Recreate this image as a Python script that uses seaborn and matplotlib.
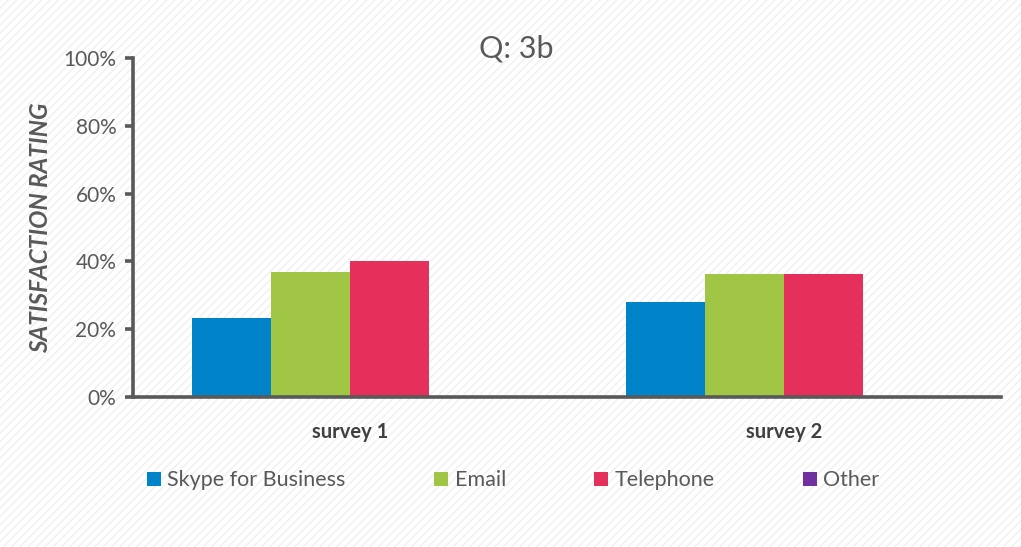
import matplotlib
matplotlib.use("Agg")
import matplotlib.pyplot as plt
import matplotlib.patches as mpatches
from matplotlib.ticker import PercentFormatter, MultipleLocator
import seaborn as sns
import pandas as pd

# Survey results (share of respondents satisfied, %)
surveys = ["survey 1", "survey 2"]
channels = ["Skype for Business", "Email", "Telephone", "Other"]
skype = [23.3, 27.9]
email = [36.8, 36.2]
telephone = [40.1, 36.2]
other = [0.0, 0.0]

palette = ["#0083C8", "#A1C646", "#E5305B", "#7030A0"]
text_grey = "#595959"

rows = []
for ch, vals in zip(channels, [skype, email, telephone, other]):
    for s, v in zip(surveys, vals):
        rows.append({"survey": s, "channel": ch, "rating": v})
df = pd.DataFrame(rows)

sns.set_theme(style="white")
plt.rcParams["font.family"] = ["Lato", "DejaVu Sans"]
plt.rcParams["hatch.color"] = "#f0f0f0"
plt.rcParams["hatch.linewidth"] = 1.0

fig = plt.figure(figsize=(10.21, 5.47), dpi=100)
fig.patch.set_facecolor("white")
# subtle diagonal texture behind the chart
bg = mpatches.Rectangle((0, 0), 1, 1, transform=fig.transFigure,
                        facecolor="white", edgecolor="#f0f0f0",
                        hatch="////", linewidth=0, zorder=-10)
fig.patches.append(bg)

ax = fig.add_axes([0.1303, 0.2742, 0.8497, 0.6198])
ax.patch.set_alpha(0)

sns.barplot(data=df, x="survey", y="rating", hue="channel",
            hue_order=channels, palette=palette, width=0.728,
            saturation=1, linewidth=0, ax=ax, legend=True)

ax.set_xlim(-0.5, 1.5)
ax.set_ylim(0, 100)
ax.yaxis.set_major_locator(MultipleLocator(20))
ax.yaxis.set_major_formatter(PercentFormatter(decimals=0))

for side in ["top", "right"]:
    ax.spines[side].set_visible(False)
for side in ["left", "bottom"]:
    ax.spines[side].set_color(text_grey)
    ax.spines[side].set_linewidth(2.6)

ax.tick_params(axis="y", which="both", left=True, length=6, width=2.6,
               color=text_grey, labelcolor=text_grey, labelsize=15, pad=6)
ax.tick_params(axis="x", bottom=False, labelcolor="#404040", pad=12)
for lbl in ax.get_xticklabels():
    lbl.set_fontsize(14.5)
    lbl.set_fontweight("bold")

ax.set_xlabel("")
ax.set_ylabel("SATISFACTION RATING", fontsize=17.5, fontweight="bold",
              fontstyle="italic", color=text_grey)
ax.yaxis.set_label_coords(-0.093, 0.5)

fig.text(0.506, 0.912, "Q: 3b", ha="center", va="center",
         fontsize=22, color="#595959")

sns.move_legend(ax, "center left", bbox_to_anchor=(0.125, 0.122),
                bbox_transform=fig.transFigure, ncol=4, frameon=False,
                title=None, fontsize=15.5, handlelength=0.65,
                handleheight=0.65, handletextpad=0.3, columnspacing=4.1,
                labelcolor=text_grey)

fig.savefig("out.png", dpi=100)
